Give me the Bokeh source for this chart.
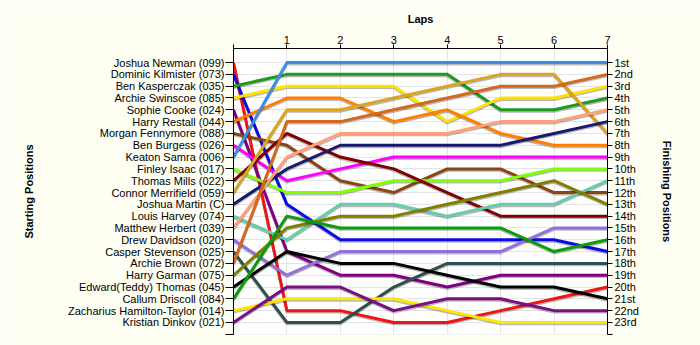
from bokeh.plotting import figure
from bokeh.models import ColumnDataSource, Range1d, LinearAxis, FixedTicker
from bokeh.transform import dodge
from bokeh.embed import file_html
from bokeh.resources import INLINE

# ---------------- data ----------------
drivers = [
    "Joshua Newman (099)", "Dominic Kilmister (073)", "Ben Kasperczak (035)",
    "Archie Swinscoe (085)", "Sophie Cooke (024)", "Harry Restall (044)",
    "Morgan Fennymore (088)", "Ben Burgess (026)", "Keaton Samra (006)",
    "Finley Isaac (017)", "Thomas Mills (022)", "Connor Merrifield (059)",
    "Joshua Martin (C)", "Louis Harvey (074)", "Matthew Herbert (039)",
    "Drew Davidson (020)", "Casper Stevenson (025)", "Archie Brown (072)",
    "Harry Garman (075)", "Edward(Teddy) Thomas (045)", "Callum Driscoll (084)",
    "Zacharius Hamilton-Taylor (014)", "Kristian Dinkov (021)",
]
finish_labels = [
    "1st", "2nd", "3rd", "4th", "5th", "6th", "7th", "8th", "9th", "10th",
    "11th", "12th", "13th", "14th", "15th", "16th", "17th", "18th", "19th",
    "20th", "21st", "22nd", "23rd",
]
laps = [0, 1, 2, 3, 4, 5, 6, 7]
lap_labels = ["", "1", "2", "3", "4", "5", "6", "7"]

# position of each driver (in starting order) after each lap
lap0 = [1, 2, 3, 4, 5, 6, 7, 8, 9, 10, 11, 12, 13, 14, 15, 16, 17, 18, 19, 20, 21, 22, 23]
lap1 = [22, 13, 2, 3, 17, 4, 8, 11, 1, 12, 7, 5, 10, 16, 9, 19, 23, 6, 15, 17, 14, 21, 20]
lap2 = [22, 16, 2, 3, 19, 4, 11, 10, 1, 12, 9, 5, 8, 13, 7, 17, 23, 6, 14, 18, 15, 21, 20]
lap3 = [23, 16, 2, 3, 19, 6, 12, 9, 1, 11, 10, 4, 8, 13, 7, 17, 20, 5, 14, 18, 15, 21, 22]
lap4 = [23, 16, 2, 6, 20, 5, 10, 9, 1, 11, 12, 3, 8, 14, 7, 17, 18, 4, 13, 19, 15, 22, 21]
lap5 = [22, 16, 5, 4, 19, 7, 10, 9, 1, 11, 14, 2, 8, 13, 6, 17, 18, 3, 12, 20, 15, 23, 21]
lap6 = [21, 16, 5, 4, 19, 8, 12, 9, 1, 10, 14, 2, 7, 13, 6, 15, 18, 3, 11, 20, 17, 23, 22]
lap7 = [20, 17, 4, 3, 19, 8, 12, 9, 1, 10, 14, 7, 6, 11, 5, 15, 18, 2, 13, 21, 16, 23, 22]
all_laps = [lap0, lap1, lap2, lap3, lap4, lap5, lap6, lap7]

colors = [
    "#F01414", "#0A0AE6", "#1E9A1E", "#FFE200", "#800080", "#FF8000",
    "#8B4513", "#FF00FF", "#3C8EE6", "#7FFF00", "#800000", "#DAA520",
    "#191970", "#66CDAA", "#FFA07A", "#9370DB", "#2F4F4F", "#D2691E",
    "#808000", "#000000", "#0A9E0A", "#FFE600", "#7B0E84",
]

# ---------------- figure ----------------
p = figure(
    width=700, height=345, output_backend="svg", toolbar_location=None,
    x_range=Range1d(0, 7), y_range=Range1d(24.02, -0.19),
    x_axis_location="above", y_axis_location="left",
    min_border_left=233, min_border_right=93, min_border_top=48, min_border_bottom=11,
    background_fill_color="white", border_fill_color="#FEFEF3",
    outline_line_color=None,
)

FONT = "Liberation Sans"


def style_axis(ax):
    ax.minor_tick_line_color = None
    ax.major_tick_in = 0
    ax.axis_line_color = "black"
    ax.major_tick_line_color = "black"
    ax.axis_label_text_font = FONT
    ax.axis_label_text_font_size = "11px"
    ax.axis_label_text_font_style = "bold"
    ax.axis_label_text_color = "black"
    ax.major_label_text_font = FONT
    ax.major_label_text_font_size = "11px"
    ax.major_label_text_color = "black"


# top axis (laps)
xa = p.xaxis[0]
style_axis(xa)
xa.ticker = FixedTicker(ticks=laps)
xa.major_label_overrides = {l: t for l, t in zip(laps, lap_labels)}
xa.major_tick_out = 4
xa.major_label_standoff = 1
xa.axis_label = "Laps"
xa.axis_label_standoff = 8

# left axis (starting positions)
ticks_y = list(range(1, len(drivers) + 2))
ya = p.yaxis[0]
style_axis(ya)
ya.ticker = FixedTicker(ticks=ticks_y)
ov_left = {i + 1: n for i, n in enumerate(drivers)}
ov_left[len(drivers) + 1] = ""
ya.major_label_overrides = ov_left
ya.major_tick_out = 8
ya.major_label_standoff = 1
ya.axis_label = "Starting Positions"
ya.axis_label_standoff = 30

# right axis (finishing positions)
ov_right = {i + 1: n for i, n in enumerate(finish_labels)}
ov_right[len(finish_labels) + 1] = ""
ra = LinearAxis(ticker=FixedTicker(ticks=ticks_y), major_label_overrides=ov_right)
style_axis(ra)
ra.major_tick_out = 5
ra.major_label_standoff = 2
ra.axis_label = "Finishing Positions"
ra.axis_label_standoff = 19
p.add_layout(ra, "right")

p.xgrid.grid_line_color = "#E4E4E4"
p.ygrid.grid_line_color = "#E4E4E4"

# ---------------- lines ----------------
for i, name in enumerate(drivers):
    src = ColumnDataSource(dict(lap=laps, pos=[lp[i] for lp in all_laps]))
    p.line("lap", dodge("pos", 0.12), source=src, line_color="black",
           line_alpha=0.28, line_width=3)
    p.line("lap", "pos", source=src, line_color=colors[i], line_width=3)

open("out.html", "w").write(file_html(p, INLINE))
